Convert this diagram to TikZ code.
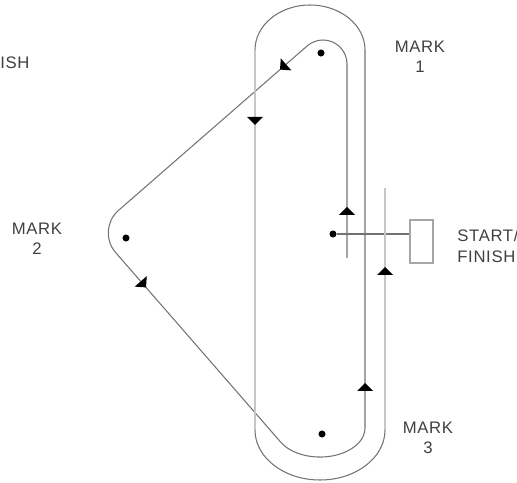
\documentclass[tikz,border=0pt]{standalone}
\usepackage{fontspec}
\setmainfont{Liberation Sans}
\usetikzlibrary{positioning}

\tikzset{
	bahn/.style={draw=black!55, line width=0.6pt},
	lauf/.style={draw=black!22, line width=1.4pt},
	boje/.style={circle, fill=black, inner sep=0pt, minimum size=4pt},
	ziel/.style={draw=black!35, line width=1pt, minimum width=0.46cm, minimum height=0.86cm, inner sep=0pt},
	schrift/.style={text=black!75, font=\fontsize{9.5}{11.5}\selectfont\addfontfeatures{LetterSpace=4}, inner sep=0pt, align=center}
}
% Pfeilspitze: Spitze bei (#1,#2), Richtung #3
\newcommand{\pfeil}[3]{\fill[shift={(#1,#2)}, rotate=#3] (0,0) -- (-8,8) -- (-8,-8) -- cycle;}

\begin{document}
\begin{tikzpicture}[x=0.02cm, y=0.02cm]
	\useasboundingbox (0,0) rectangle (517,483);
	% Bojen
	\node[boje] (m1) at (321,430) {};
	\node[boje] (m2) at (126,245) {};
	\node[boje] (m3) at (322,49) {};
	\node[boje] (sp) at (333,249) {};
	% Start und Ziel
	\node[ziel] (zs) at (421.5,241.5) {};
	\draw[bahn] (sp) -- (sp -| zs.west);
	% Erster Schlag zur Boje 1
	\draw[bahn] (347,225) -- (347,419) arc[start angle=0, end angle=131, radius=24] coordinate (k1);
	% Dreieck ueber Boje 2
	\draw[bahn, rounded corners=17pt] (k1) -- (96,253) -- (281,40.5) coordinate (k2);
	% Um Boje 3 und wieder hoch
	\draw[bahn] (k2) arc[start angle=209.9, end angle=360, x radius=45, y radius=29]
		-- (365,433) arc[start angle=0, end angle=180, x radius=55, y radius=45] coordinate (k3);
	% Vorwind und Zielschlag
	\draw[lauf] (k3) -- (255,53) coordinate (k4);
	\draw[bahn] (k4) arc[start angle=180, end angle=360, x radius=65, y radius=50] coordinate (k5);
	\draw[lauf] (k5) -- (385,295);
	% Pfeile
	\pfeil{347}{276}{90}
	\pfeil{255}{358}{-90}
	\pfeil{365}{100}{90}
	\pfeil{385}{216}{90}
	\pfeil{280}{413.4}{221.07}
	\pfeil{146}{195.6}{-48.96}
	% Beschriftung
	\node[schrift, anchor=west] (lz) at (0,420) {ISH};
	\node[schrift] (l1) at (420,426) {MARK\\1};
	\node[schrift] (l2) at (37,244) {MARK\\2};
	\node[schrift] (l3) at (428,45) {MARK\\3};
	\node[schrift, anchor=west, align=left] (ls) at (457,237) {START/\\FINISH};
\end{tikzpicture}
\end{document}
